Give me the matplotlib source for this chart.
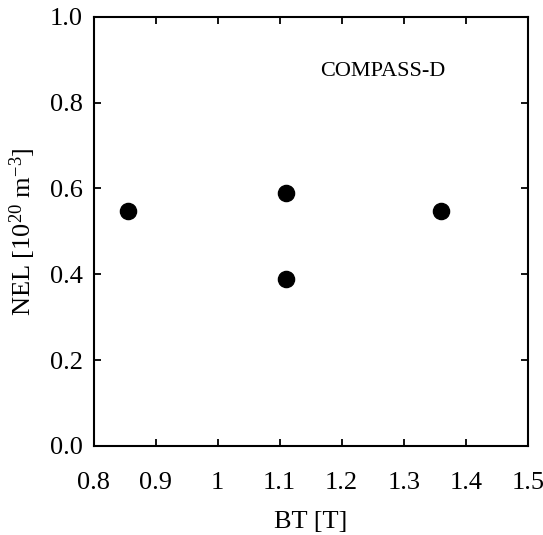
import numpy as np
import matplotlib.pyplot as plt

plt.rcParams['font.family'] = ['Liberation Serif', 'DejaVu Serif']
plt.rcParams['mathtext.fontset'] = 'custom'
plt.rcParams['mathtext.rm'] = 'Liberation Serif'
plt.rcParams['mathtext.it'] = 'Liberation Serif:italic'

# toroidal field vs line-averaged density for the discharges
bt = [0.855, 1.11, 1.11, 1.36]
nel = [0.547, 0.59, 0.39, 0.547]

x_ticks = [0.8, 0.9, 1.0, 1.1, 1.2, 1.3, 1.4, 1.5]
x_tick_labels = ['0.8', '0.9', '1', '1.1', '1.2', '1.3', '1.4', '1.5']
y_ticks = [0.0, 0.2, 0.4, 0.6, 0.8, 1.0]
y_tick_labels = ['0.0', '0.2', '0.4', '0.6', '0.8', '1.0']

fig = plt.figure(figsize=(5.43, 5.35), dpi=100)
ax = fig.add_axes([0.1726, 0.1664, 0.7992, 0.8024])

ax.scatter(bt, nel, s=135, color='black', zorder=3)

ax.set_xlim(0.8, 1.5)
ax.set_ylim(0.0, 1.0)
ax.set_xticks(x_ticks)
ax.set_xticklabels(x_tick_labels)
ax.set_yticks(y_ticks)
ax.set_yticklabels(y_tick_labels)

ax.tick_params(direction='in', length=5, width=1.3, top=True, right=True,
               labelsize=19, colors='black')
ax.tick_params(axis='x', pad=19)
ax.tick_params(axis='y', pad=8)
for spine in ax.spines.values():
    spine.set_linewidth(1.5)

ax.set_xlabel('BT [T]', fontsize=19, labelpad=12)
ax.set_ylabel('NEL [10$^{20}$ m$^{-3}$]', fontsize=19, labelpad=8)

ax.text(0.81, 0.863, 'COMPASS-D', transform=ax.transAxes, fontsize=16,
        ha='right', va='baseline')

fig.savefig('out.png', dpi=100)
